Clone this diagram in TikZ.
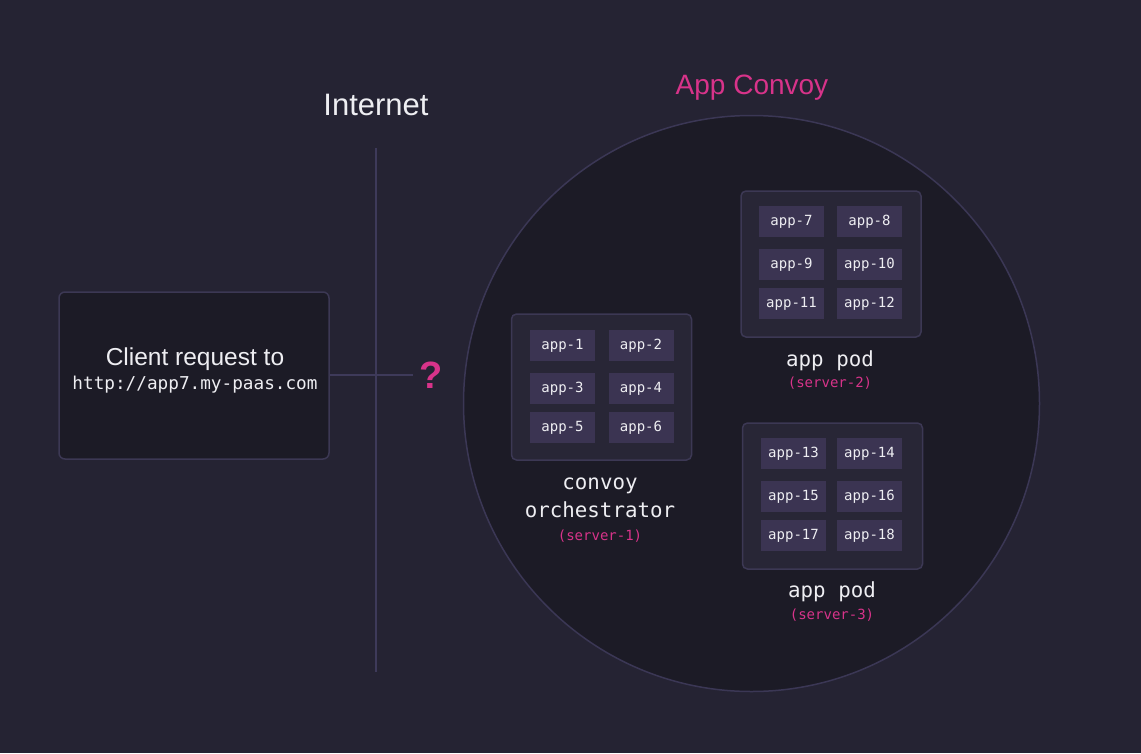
\documentclass[tikz,border=0pt]{standalone}
\usepackage{fontspec}
\setmainfont{Liberation Sans}
\newfontfamily\codefont{DejaVu Sans Mono}
\definecolor{bgcol}{HTML}{252333}
\definecolor{ringfill}{HTML}{1C1B26}
\definecolor{ringline}{HTML}{3B3755}
\definecolor{srvfill}{HTML}{282636}
\definecolor{srvline}{HTML}{3C3854}
\definecolor{tilefill}{HTML}{3B3452}
\definecolor{wirecol}{HTML}{3E3A5A}
\definecolor{accent}{HTML}{D8338A}
\definecolor{ink}{HTML}{EEEEF2}
\begin{document}
\begin{tikzpicture}[x=1pt,y=-1pt,
  tile/.style={fill=tilefill, minimum width=65pt, minimum height=31pt, inner sep=0pt,
    text=ink, font=\codefont\fontsize{14}{14}\selectfont},
  server/.style={draw=srvline, line width=1.5pt, fill=srvfill, rounded corners=5pt,
    minimum width=180pt, minimum height=146pt, inner sep=0pt},
  srvname/.style={text=ink, align=center, font=\codefont\fontsize{20.8}{28}\selectfont},
  srvtag/.style={text=accent, font=\codefont\fontsize{14}{14}\selectfont},
  wire/.style={draw=wirecol, line width=2.2pt}]
  % canvas
  \fill[bgcol] (0,0) rectangle (1141,753);
  \useasboundingbox (0,0) rectangle (1141,753);

  % the convoy ring
  \node[circle, draw=ringline, line width=1.5pt, fill=ringfill, minimum size=576pt, inner sep=0pt]
    (ring) at (751.5,403.5) {};
  \node[text=accent, font=\fontsize{28}{28}\selectfont] (convoytitle) at (752,88) {App Convoy};

  % internet divider
  \node[text=ink, font=\fontsize{31}{31}\selectfont] (internet) at (376,105) {Internet};
  \coordinate (nettop) at (376,148);
  \coordinate (netbot) at (376,672);
  \draw[wire] (nettop) -- (netbot);

  % client
  \node[draw=srvline, line width=1.5pt, fill=ringfill, rounded corners=6pt,
    minimum width=270pt, minimum height=167pt, inner sep=0pt] (client) at (194,375.5) {};
  \node[text=ink, font=\fontsize{24.5}{24.5}\selectfont] (clienttxt) at (195,359) {Client request to};
  \node[text=ink, font=\codefont\fontsize{17.7}{17.7}\selectfont] (clienturl) at (195,385) {http://app7.my-paas.com};
  \node[text=accent, font=\bfseries\fontsize{38}{38}\selectfont, inner sep=6pt] (ask) at (431,375) {?};
  \draw[wire] (client.east |- 0,375) -- (ask.west);

  % server-1: orchestrator
  \node[server] (s1) at (601.5,387) {};
  \node[tile] (a1) at (562.5,345.5) {app-1};
  \node[tile] (a2) at (641,345.5) {app-2};
  \node[tile] (a3) at (562.5,388.5) {app-3};
  \node[tile] (a4) at (641,388.5) {app-4};
  \node[tile] (a5) at (562.5,427.5) {app-5};
  \node[tile] (a6) at (641,427.5) {app-6};
  \node[srvname] (s1name) at (600,498) {convoy\\orchestrator};
  \node[srvtag] (s1tag) at (600,536) {(server-1)};

  % server-2: app pod
  \node[server] (s2) at (831,264) {};
  \node[tile] (a7) at (791.5,221.5) {app-7};
  \node[tile] (a8) at (869.5,221.5) {app-8};
  \node[tile] (a9) at (791.5,264.5) {app-9};
  \node[tile] (a10) at (869.5,264.5) {app-10};
  \node[tile] (a11) at (791.5,303.5) {app-11};
  \node[tile] (a12) at (869.5,303.5) {app-12};
  \node[srvname] (s2name) at (830,361) {app pod};
  \node[srvtag] (s2tag) at (830,383) {(server-2)};

  % server-3: app pod
  \node[server] (s3) at (832.5,496) {};
  \node[tile] (a13) at (793.5,453.5) {app-13};
  \node[tile] (a14) at (869.5,453.5) {app-14};
  \node[tile] (a15) at (793.5,496.5) {app-15};
  \node[tile] (a16) at (869.5,496.5) {app-16};
  \node[tile] (a17) at (793.5,535.5) {app-17};
  \node[tile] (a18) at (869.5,535.5) {app-18};
  \node[srvname] (s3name) at (832,592) {app pod};
  \node[srvtag] (s3tag) at (832,615) {(server-3)};
\end{tikzpicture}
\end{document}
